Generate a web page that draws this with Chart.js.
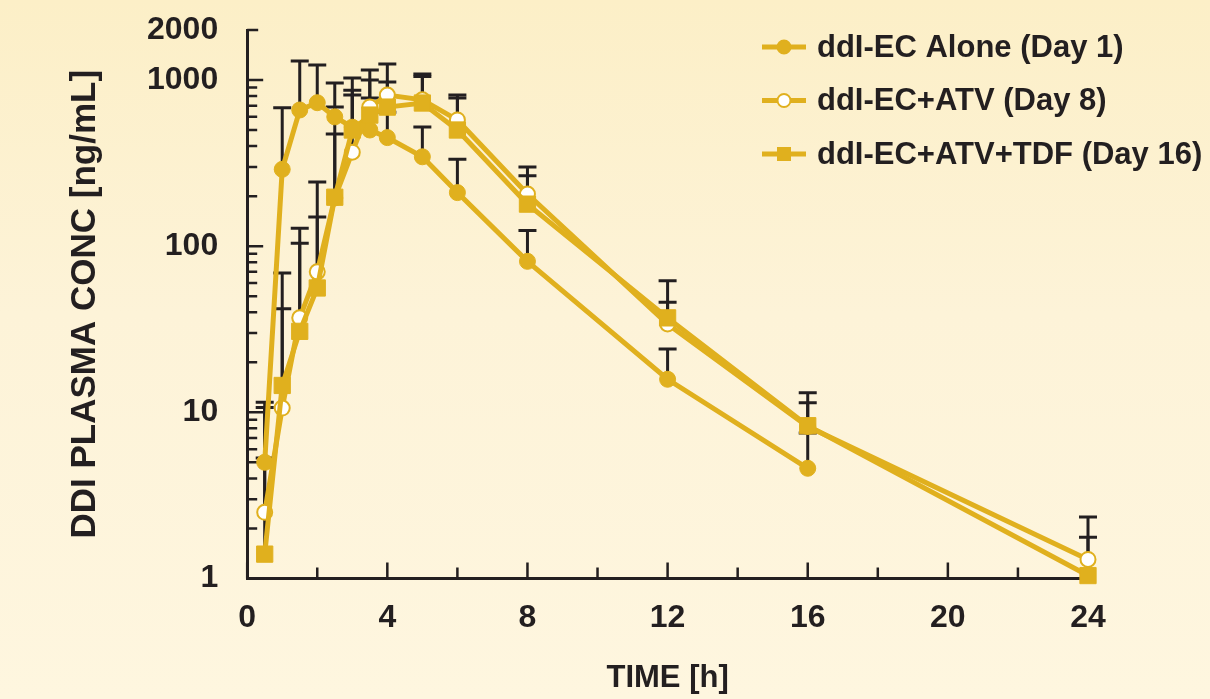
<!DOCTYPE html>
<html>
<head>
<meta charset="utf-8">
<script src="https://cdn.jsdelivr.net/npm/chart.js@4"></script>
<style>
  html, body { margin: 0; padding: 0; }
  body {
    width: 1210px; height: 699px; overflow: hidden;
    background: linear-gradient(to bottom, #fcefc7 0%, #fdf3d8 45%, #fef6df 100%);
  }
  #wrap { position: relative; width: 1210px; height: 699px; }
</style>
</head>
<body>
<div id="wrap"><canvas id="pk"></canvas></div>
<script>
// sampling times [h]
const times = [0.5, 1, 1.5, 2, 2.5, 3, 3.5, 4, 5, 6, 8, 12, 16, 24];

// mean ddI concentrations [ng/mL]
const aloneDay1   = [5.0, 290, 660, 730, 600, 520, 500, 450, 345, 210, 81, 15.8, 4.6];
const atvDay8     = [2.5, 10.6, 37, 70, 195, 368, 687, 812, 760, 575, 206, 34, 8.2, 1.3];
const atvTdfDay16 = [1.4, 14.5, 30.7, 56, 197, 500, 615, 687, 727, 500, 179, 37, 8.3, 1.04];

// upper end of the error bars
const aloneUpper   = [5.3, 680, 1300, 1230, 960, 1028, 780, 640, 521, 334, 124, 24, 7.5];
const atvUpper     = [10.7, 42, 104, 150, 687, 812, 1148, 1250, 1087, 812, 300, 62, 13.1, 2.34];
const atvTdfUpper  = [11.5, 69, 128, 243, 473, 868, 1000, 972, 1050, 780, 265, 46, 11.4, 1.77];

const seriesLabels = ['ddI-EC Alone (Day 1)', 'ddI-EC+ATV (Day 8)', 'ddI-EC+ATV+TDF (Day 16)'];
const yTickValues = [1, 10, 100, 1000, 2000];
const xTickStep = 4;

const GOLD = '#e0b01e';
const INK = '#231f20';
const FONT = "'Liberation Sans', Arial, Helvetica, sans-serif";

function toPoints(values) {
  return values.map((v, i) => ({x: times[i], y: v}));
}

// inward tick marks on both axes
const innerTicks = {
  id: 'innerTicks',
  beforeDatasetsDraw(chart) {
    const {ctx, chartArea, scales: {x, y}} = chart;
    ctx.save();
    ctx.strokeStyle = INK;
    ctx.lineWidth = 2.5;
    ctx.beginPath();
    for (let t = 0; t <= x.max; t += 2) {
      const px = x.getPixelForValue(t);
      const len = t % 4 === 0 ? 16 : 11;
      ctx.moveTo(px, chartArea.bottom);
      ctx.lineTo(px, chartArea.bottom - len);
    }
    for (let dec = 1; dec <= 1000; dec *= 10) {
      for (let m = 1; m <= 9; m++) {
        const v = dec * m;
        if (v > y.max) break;
        const py = y.getPixelForValue(v);
        const len = m === 1 ? 16 : 10;
        ctx.moveTo(chartArea.left, py);
        ctx.lineTo(chartArea.left + len, py);
      }
    }
    const topY = y.getPixelForValue(y.max);
    ctx.moveTo(chartArea.left, topY);
    ctx.lineTo(chartArea.left + 11, topY);
    ctx.stroke();
    ctx.restore();
  }
};

// upward error bars with a cap
const errorBars = {
  id: 'errorBars',
  beforeDatasetsDraw(chart) {
    const {ctx, scales: {x, y}} = chart;
    ctx.save();
    ctx.strokeStyle = INK;
    ctx.lineWidth = 3;
    chart.data.datasets.forEach(ds => {
      ds.upper.forEach((u, i) => {
        const px = x.getPixelForValue(ds.data[i].x);
        const py0 = y.getPixelForValue(ds.data[i].y);
        const py1 = y.getPixelForValue(u);
        ctx.beginPath();
        ctx.moveTo(px, py0);
        ctx.lineTo(px, py1);
        ctx.moveTo(px - 9, py1);
        ctx.lineTo(px + 9, py1);
        ctx.stroke();
      });
    });
    ctx.restore();
  }
};

// legend in the top right corner
const cornerLegend = {
  id: 'cornerLegend',
  afterDraw(chart) {
    const {ctx} = chart;
    ctx.save();
    chart.data.datasets.forEach((ds, i) => {
      const yy = 47 + i * 53.5;
      ctx.strokeStyle = GOLD;
      ctx.lineWidth = 5;
      ctx.beginPath();
      ctx.moveTo(762, yy);
      ctx.lineTo(806, yy);
      ctx.stroke();
      ctx.fillStyle = ds.pointBackgroundColor;
      ctx.strokeStyle = GOLD;
      ctx.lineWidth = 2;
      if (ds.pointStyle === 'rect') {
        ctx.fillRect(777, yy - 7, 14, 14);
      } else {
        ctx.beginPath();
        ctx.arc(784, yy, 6.5, 0, Math.PI * 2);
        ctx.fill();
        ctx.stroke();
      }
      ctx.fillStyle = INK;
      ctx.font = 'bold 31px ' + FONT;
      ctx.textBaseline = 'middle';
      ctx.fillText(ds.label, 817, yy + 1);
    });
    ctx.restore();
  }
};

new Chart(document.getElementById('pk'), {
  type: 'line',
  data: {
    datasets: [
      {
        label: seriesLabels[0],
        data: toPoints(aloneDay1),
        upper: aloneUpper,
        borderColor: GOLD,
        borderWidth: 5,
        pointStyle: 'circle',
        pointRadius: 8,
        pointBackgroundColor: GOLD,
        pointBorderColor: GOLD,
        pointBorderWidth: 1,
        order: 3,
        clip: false
      },
      {
        label: seriesLabels[1],
        data: toPoints(atvDay8),
        upper: atvUpper,
        borderColor: GOLD,
        borderWidth: 5,
        pointStyle: 'circle',
        pointRadius: 7.5,
        pointBackgroundColor: '#ffffff',
        pointBorderColor: GOLD,
        pointBorderWidth: 2,
        order: 2,
        clip: false
      },
      {
        label: seriesLabels[2],
        data: toPoints(atvTdfDay16),
        upper: atvTdfUpper,
        borderColor: GOLD,
        borderWidth: 5,
        pointStyle: 'rect',
        pointRadius: 11.5,
        pointBackgroundColor: GOLD,
        pointBorderColor: GOLD,
        pointBorderWidth: 1,
        order: 1,
        clip: false
      }
    ]
  },
  options: {
    responsive: true,
    maintainAspectRatio: false,
    animation: false,
    events: [],
    layout: {
      padding: {left: 64, right: 122, top: 30, bottom: 2}
    },
    plugins: {
      legend: {display: false},
      tooltip: {enabled: false}
    },
    scales: {
      x: {
        type: 'linear',
        min: 0,
        max: 24,
        grid: {display: false, drawTicks: false},
        border: {display: true, color: INK, width: 3},
        ticks: {
          stepSize: xTickStep,
          color: INK,
          padding: 21,
          font: {family: FONT, size: 32, weight: 'bold'}
        },
        title: {
          display: true,
          text: 'TIME [h]',
          color: INK,
          padding: {top: 1, bottom: 0},
          font: {family: FONT, size: 31, weight: 'bold'}
        }
      },
      y: {
        type: 'logarithmic',
        min: 1,
        max: 2000,
        // invisible tick marks only push the labels away from the axis
        grid: {display: true, drawOnChartArea: false, drawTicks: true, tickLength: 26, color: 'rgba(0,0,0,0)'},
        border: {display: true, color: INK, width: 3},
        afterBuildTicks(axis) {
          axis.ticks = yTickValues.map(v => ({value: v}));
        },
        ticks: {
          color: INK,
          padding: 3,
          autoSkip: false,
          font: {family: FONT, size: 32, weight: 'bold'},
          callback: v => String(v)
        },
        title: {
          display: true,
          text: 'DDI PLASMA CONC [ng/mL]',
          color: INK,
          padding: {top: 0, bottom: 38},
          font: {family: FONT, size: 35, weight: 'bold'}
        }
      }
    }
  },
  plugins: [innerTicks, errorBars, cornerLegend]
});
</script>
</body>
</html>
